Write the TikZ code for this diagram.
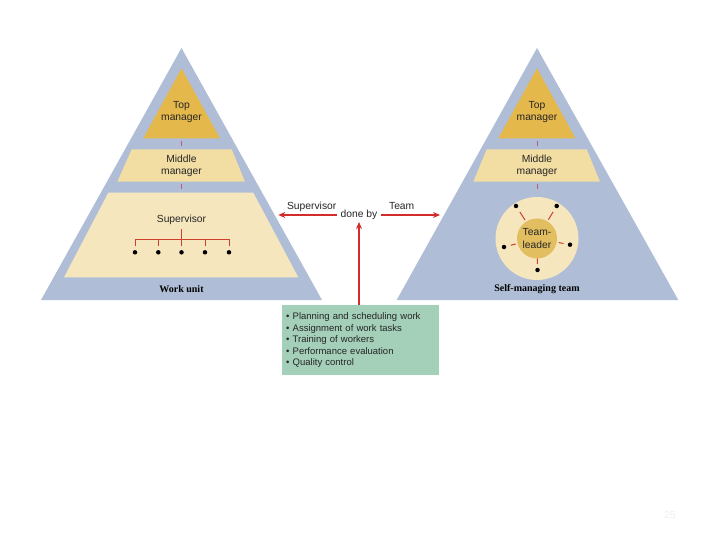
\documentclass[tikz,border=0pt]{standalone}
\usepackage{fontspec}
\setmainfont{Liberation Sans}
\newfontfamily\serifbold{Liberation Serif}
\usetikzlibrary{calc,arrows.meta}
\definecolor{pyrc}{HTML}{AFBED6}
\definecolor{topc}{HTML}{E5B84C}
\definecolor{midc}{HTML}{F2DDA2}
\definecolor{supc}{HTML}{F6E6BE}
\definecolor{innc}{HTML}{E2BE60}
\definecolor{arrc}{HTML}{D42B2B}
\definecolor{treec}{HTML}{D0402E}
\definecolor{tickc}{HTML}{B85A78}
\definecolor{boxc}{HTML}{A4CFB9}
\tikzset{
  lbl/.style={align=center,inner sep=0pt,font=\fontsize{10.3}{12.3}\selectfont,text=black!85},
  base/.style={inner sep=0pt,font=\serifbold\bfseries\fontsize{10}{12}\selectfont},
  redarrow/.style={draw=arrc,line width=1.2pt,-{Stealth[length=7pt,width=6pt]}},
  tick/.style={draw=tickc,line width=1pt},
  treeline/.style={draw=treec,line width=1pt},
  dot/.style={circle,fill=black,inner sep=0pt,minimum size=4.5pt},
  spoke/.style={draw=treec,line width=1pt}
}
\begin{document}
\begin{tikzpicture}[x=1pt,y=-1pt]
\useasboundingbox[fill=white] (0,0) rectangle (720,540);

% ---------------- left pyramid ----------------
\fill[pyrc] (41,300) -- (181.5,48) -- (322,300) -- cycle;
\fill[topc] (143.3,138.3) -- (181.5,68.3) -- (220,138.3) -- cycle;
\fill[midc] (131.7,149.3) -- (231.7,149.3) -- (245,181.7) -- (117.3,181.7) -- cycle;
\fill[supc] (108.3,192.7) -- (253.3,192.7) -- (298.3,277.3) -- (64,277.3) -- cycle;
\draw[tick] (181.5,141) -- (181.5,146.5);
\draw[tick] (181.5,184) -- (181.5,189.5);
\node[lbl] (ltop) at (181.5,112) {Top\\manager};
\node[lbl] (lmid) at (181.5,166) {Middle\\manager};
\node[lbl] (lsup) at (181.5,220) {Supervisor};
\node[base] (lbase) at (181.5,289) {Work unit};
% tree
\draw[treeline,line width=1.6pt] (181.5,229.5) -- (181.5,246);
\draw[treeline] (135,246) -- (135,239) -- (229,239) -- (229,246);
\foreach \x in {158.3,205} \draw[treeline] (\x,239) -- (\x,246);
\foreach \x/\n in {135/a,158.3/b,181.5/c,205/d,229/e}
  \node[dot] (w\n) at (\x,252.3) {};

% ---------------- right pyramid ----------------
\fill[pyrc] (396.7,300) -- (537,48) -- (678.3,300) -- cycle;
\fill[topc] (498.3,138.3) -- (537,68.3) -- (575.5,138.3) -- cycle;
\fill[midc] (486.7,149.3) -- (586.7,149.3) -- (600,181.7) -- (473.3,181.7) -- cycle;
\draw[tick] (537,141) -- (537,146.5);
\draw[tick] (537,184) -- (537,189.5);
\node[lbl] (rtop) at (537,112) {Top\\manager};
\node[lbl] (rmid) at (537,166) {Middle\\manager};
\coordinate (tc) at (537,238.5);
\fill[supc] (tc) circle[radius=41.5];
\node[circle,fill=innc,minimum size=40pt,inner sep=0pt,lbl] (tl) at (tc) {Team-\\leader};
\node[dot] (ta) at (516,206) {};
\node[dot] (tb) at (556.7,206) {};
\node[dot] (tcc) at (504,247) {};
\node[dot] (td) at (570,244.7) {};
\node[dot] (te) at (537.5,270) {};
\draw[spoke] (525.06,220.02) -- (519.79,211.87);
\draw[spoke] (548.40,219.68) -- (553.07,211.99);
\draw[spoke] (515.70,243.99) -- (510.85,245.23);
\draw[spoke] (558.62,242.56) -- (563.54,243.48);
\draw[spoke] (537.3,258.5) -- (537.4,264);
\node[base] (rbase) at (537,289) {Self-managing team};

% ---------------- centre ----------------
\node[lbl] (lsupv) at (311.7,206.5) {Supervisor};
\node[lbl] (lteam) at (401.7,206.5) {Team};
\node[lbl,inner xsep=3pt,inner ysep=2pt] (doneby) at (359,215) {done by};
\coordinate (lt) at (278.3,215);
\coordinate (rt) at (440,215);
\draw[redarrow] (doneby.west) -- (lt);
\draw[redarrow] (doneby.east) -- (rt);

\node[fill=boxc,minimum width=156.6pt,minimum height=70pt,text width=148pt,
      inner xsep=4.3pt,inner ysep=0pt,align=left,
      font=\fontsize{9.5}{11.5}\selectfont,text=black!85,anchor=north west] (tasks) at (281.7,305)
  {\textbullet\ Planning and scheduling work\\
   \textbullet\ Assignment of work tasks\\
   \textbullet\ Training of workers\\
   \textbullet\ Performance evaluation\\
   \textbullet\ Quality control};
\draw[redarrow] (tasks.north -| doneby) -- (doneby.south);

\node[text=black!6,font=\fontsize{10}{12}\selectfont] (pg) at (670,515) {25};
\end{tikzpicture}
\end{document}
